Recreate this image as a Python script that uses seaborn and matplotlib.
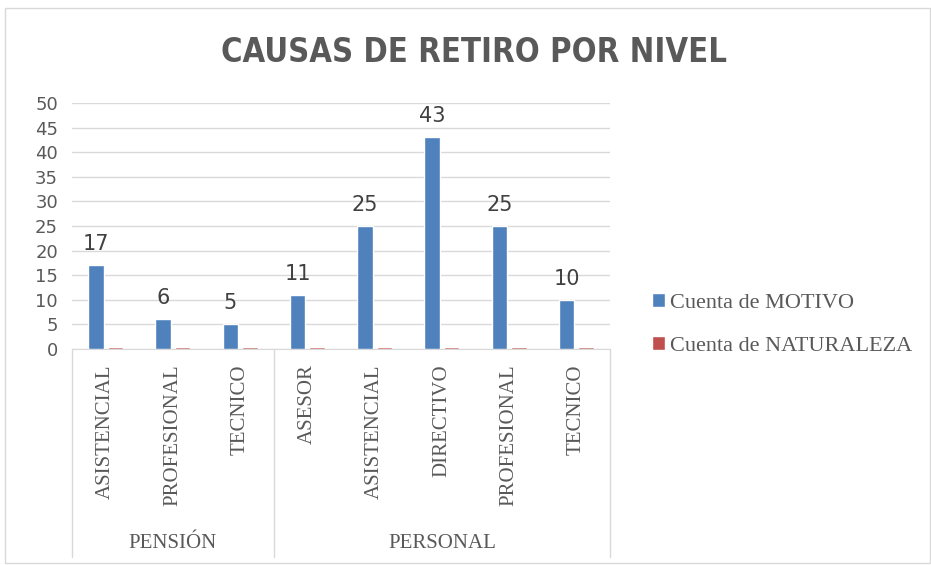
import pandas as pd
import numpy as np
import matplotlib
matplotlib.use('Agg')
import matplotlib.pyplot as plt
import matplotlib.transforms as mtransforms
from matplotlib.patches import Rectangle
import seaborn as sns

# Data
grupos = ['PENSIÓN', 'PENSIÓN', 'PENSIÓN',
          'PERSONAL', 'PERSONAL', 'PERSONAL', 'PERSONAL', 'PERSONAL']
niveles = ['ASISTENCIAL', 'PROFESIONAL', 'TECNICO',
           'ASESOR', 'ASISTENCIAL', 'DIRECTIVO', 'PROFESIONAL', 'TECNICO']
cuenta_motivo = [17, 6, 5, 11, 25, 43, 25, 10]
cuenta_naturaleza = [0.5, 0.5, 0.5, 0.5, 0.5, 0.5, 0.5, 0.5]
series = ['Cuenta de MOTIVO', 'Cuenta de NATURALEZA']
colores = ['#4f81bd', '#c0504d']

def main():
    claves = [g + '|' + n for g, n in zip(grupos, niveles)]
    df = pd.DataFrame({
        'clave': claves * 2,
        'serie': [series[0]] * len(claves) + [series[1]] * len(claves),
        'valor': cuenta_motivo + cuenta_naturaleza,
    })

    sns.set_style('white')
    serif = ['Liberation Serif', 'DejaVu Serif']
    texto = '#595959'

    fig = plt.figure(figsize=(9.31, 5.65), dpi=100)
    fig.patches.append(Rectangle((5 / 931, 2 / 565), 925 / 931, 555 / 565,
                                 transform=fig.transFigure, fill=False,
                                 edgecolor='#d9d9d9', linewidth=1))
    ax = fig.add_axes([72 / 931, 1 - 349 / 565, 538 / 931, 246 / 565])

    sns.barplot(data=df, x='clave', y='valor', hue='serie', order=claves,
                hue_order=series, palette=colores, width=0.58, gap=0.2,
                saturation=1, ax=ax, legend=True, zorder=3)

    ax.set_ylim(0, 50)
    ax.set_xlim(-0.5, len(claves) - 0.5)
    ax.set_yticks(range(0, 51, 5))
    ax.yaxis.grid(True, color='#d9d9d9', linewidth=1)
    ax.set_axisbelow(True)
    for s in ['top', 'right', 'left']:
        ax.spines[s].set_visible(False)
    ax.spines['bottom'].set_color('#d9d9d9')
    ax.spines['bottom'].set_zorder(1)
    ax.set_xlabel('')
    ax.set_ylabel('')

    ax.set_xticks(range(len(claves)))
    ax.set_xticklabels(niveles, rotation=90, family=serif, fontsize=15, color=texto)
    ax.tick_params(axis='x', length=0, pad=11)
    ax.tick_params(axis='y', length=0, pad=10, labelsize=13, labelcolor=texto)

    # data labels on the blue series
    ax.bar_label(ax.containers[0], labels=[str(v) for v in cuenta_motivo],
                 padding=8, fontsize=15, color='#404040')

    # group separators and group labels
    trans = mtransforms.blended_transform_factory(ax.transData, ax.transAxes)
    bottom = -(557 - 349) / 246
    limites = [-0.5]
    for i in range(1, len(grupos)):
        if grupos[i] != grupos[i - 1]:
            limites.append(i - 0.5)
    limites.append(len(grupos) - 0.5)
    for x in limites:
        ax.plot([x, x], [0, bottom], transform=trans, color='#d9d9d9',
                linewidth=1, clip_on=False)
    for a, b in zip(limites[:-1], limites[1:]):
        nombre = grupos[int(a + 0.5)]
        ax.text((a + b) / 2, -(543 - 349) / 246, nombre, transform=trans,
                ha='center', va='center', family=serif, fontsize=15, color=texto)

    leg = ax.legend(loc='center left', bbox_to_anchor=(1.04, 0.1), frameon=False,
                    prop={'family': serif, 'size': 16}, handlelength=0.6,
                    handleheight=0.6, handletextpad=0.25, labelspacing=1.05)
    for t in leg.get_texts():
        t.set_color(texto)

    fig.text(474 / 931, 1 - 52 / 565, 'CAUSAS DE RETIRO POR NIVEL', ha='center',
             va='center', fontsize=23.5, fontweight='bold', fontstretch='condensed',
             family=['Liberation Sans Narrow', 'DejaVu Sans'], color=texto)

    fig.savefig('out.png', dpi=100)
    plt.close(fig)

if __name__ == "__main__":
    main()
